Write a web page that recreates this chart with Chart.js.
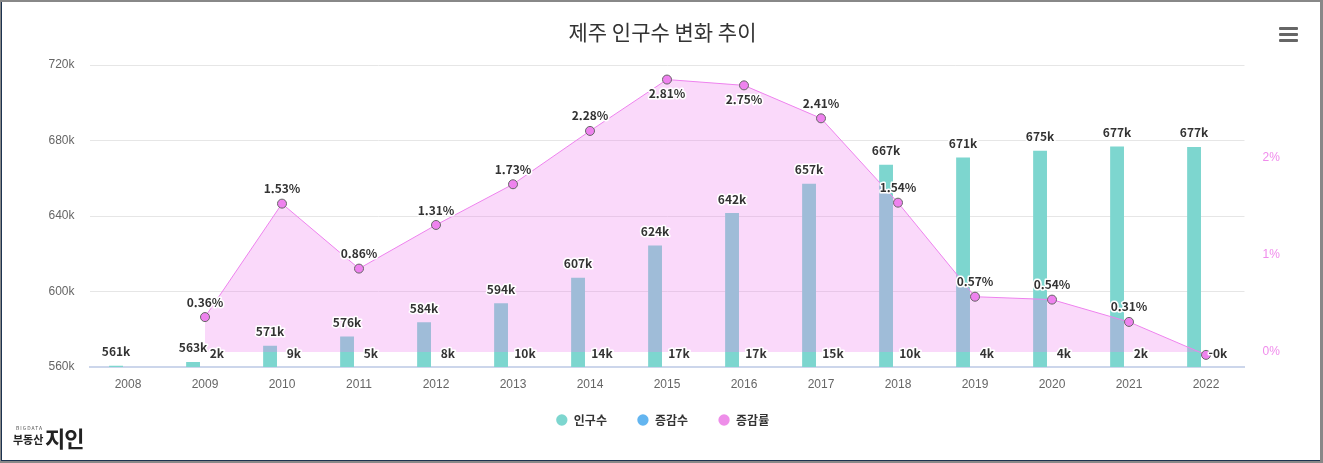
<!DOCTYPE html>
<html lang="ko">
<head>
<meta charset="utf-8">
<title>제주 인구수 변화 추이</title>
<script src="https://cdn.jsdelivr.net/npm/chart.js@4/dist/chart.umd.min.js"></script>
<style>
    body { margin: 0; background: #fff; font-family: "Noto Sans CJK KR", sans-serif; }
    .frame {
        position: absolute; left: 0; top: 0; width: 1323px; height: 463px; box-sizing: border-box;
        border-top: 2px solid #888; border-right: 3px solid #888; border-bottom: 2px solid #888; border-left: 1px solid #888;
    }
    .inner {
        position: absolute; left: 0; top: 0; right: 0; bottom: 0;
        border-left: 1px solid #1c3350; border-bottom: 1px solid #1c3350;
    }
    .wrap { position: absolute; left: 2px; top: 0; width: 1317px; height: 457px; }
    .menu { position: absolute; left: 1279px; top: 27px; width: 19px; }
    .menu span { display: block; height: 3px; background: #666; margin-bottom: 3px; border-radius: 1px; }
    .logo { position: absolute; left: 13px; top: 424px; color: #222; white-space: nowrap; }
    .logo .small { position: absolute; left: 3px; top: 0; font-size: 5px; letter-spacing: 1px; color: #555; }
    .logo .kr { position: absolute; left: 0; top: 7px; font-size: 11px; font-weight: bold; }
    .logo .big { position: absolute; left: 32px; top: -3px; font-size: 22px; font-weight: bold; letter-spacing: -1px; }
</style>
</head>
<body>
<div class="frame"><div class="inner">
    <div class="wrap"><canvas id="chart"></canvas></div>
</div></div>
<div class="menu"><span></span><span></span><span></span></div>
<div class="logo"><span class="small">BIGDATA</span><span class="kr">부동산</span><span class="big">지인</span></div>
<script>
    // 데이터 (인구수/증감수는 천 명 단위)
    const years = ["2008", "2009", "2010", "2011", "2012", "2013", "2014", "2015", "2016", "2017", "2018", "2019", "2020", "2021", "2022"];
    const population = [560.6, 562.7, 571.3, 576.2, 583.7, 593.8, 607.3, 624.4, 641.6, 657.1, 667.2, 671.0, 674.6, 676.8, 676.6];
    const change = [null, 2.0, 8.6, 4.9, 7.6, 10.1, 13.5, 17.0, 17.2, 15.4, 10.1, 3.8, 3.6, 2.1, -0.2];
    const rate = [null, 0.36, 1.53, 0.86, 1.31, 1.73, 2.28, 2.81, 2.75, 2.41, 1.54, 0.57, 0.54, 0.31, -0.03];
    const leftTicks = [560, 600, 640, 680, 720];
    const rightTicks = [0, 1, 2];
    const legendColors = ["#7dd6cf", "#63b5f0", "#ee8ee9"];

    const labelFont = 'bold 12px "Noto Sans CJK KR", sans-serif';

    // 막대/점 위 값 표시
    const valueLabels = {
        id: "valueLabels",
        afterDatasetsDraw(chart) {
            const ctx = chart.ctx;
            const area = chart.chartArea;
            ctx.save();
            ctx.font = labelFont;
            ctx.textAlign = "center";
            ctx.textBaseline = "middle";
            ctx.lineJoin = "round";
            chart.data.datasets.forEach((ds, di) => {
                const meta = chart.getDatasetMeta(di);
                meta.data.forEach((el, i) => {
                    const v = ds.data[i];
                    if (v === null || v === undefined) return;
                    let text, x = el.x, y;
                    if (ds.type === "line") {
                        if (v < 0) return; // 겹치는 라벨은 숨김
                        text = v.toFixed(2) + "%";
                        y = el.y - 15;
                        if (y - 8 < area.top) y = el.y + 14;
                    } else {
                        text = v.toFixed(0) + "k";
                        y = Math.min(el.y, el.base) - 14;
                    }
                    ctx.strokeStyle = "#fff";
                    ctx.lineWidth = 3;
                    ctx.strokeText(text, x, y);
                    ctx.fillStyle = "#333";
                    ctx.fillText(text, x, y);
                });
            });
            ctx.restore();
        },
    };

    // 범례를 x축 라벨 쪽으로 조금 올림
    const legendShift = {
        id: "legendShift",
        afterLayout(chart) {
            if (chart.legend) {
                chart.legend.top -= 7;
                chart.legend.bottom -= 7;
            }
        },
    };

    new Chart(document.getElementById("chart"), {
        type: "bar",
        data: {
            labels: years,
            datasets: [
                {
                    label: "인구수",
                    data: population,
                    yAxisID: "y",
                    backgroundColor: "#7dd6cf",
                    borderWidth: 0,
                    order: 1,
                },
                {
                    label: "증감수",
                    data: change,
                    yAxisID: "y2",
                    backgroundColor: "#63b5f0",
                    borderWidth: 0,
                    order: 2,
                },
                {
                    type: "line",
                    label: "증감률",
                    data: rate,
                    yAxisID: "y1",
                    borderColor: "#ee82ee",
                    borderWidth: 1,
                    backgroundColor: "rgba(238, 130, 238, 0.3)",
                    fill: { value: 0 },
                    tension: 0,
                    pointRadius: 4.5,
                    pointBackgroundColor: "#ee82ee",
                    pointBorderColor: "#666",
                    pointBorderWidth: 1,
                    order: 0,
                },
            ],
        },
        options: {
            responsive: true,
            maintainAspectRatio: false,
            animation: false,
            datasets: {
                bar: { categoryPercentage: 0.62, barPercentage: 0.58 },
            },
            layout: { padding: { top: 0, left: 0, right: 0, bottom: 16 } },
            scales: {
                x: {
                    grid: { display: false, drawTicks: false },
                    border: { color: "#ccd6eb", width: 2 },
                    ticks: { color: "#666", font: { size: 12 }, padding: 10, maxRotation: 0 },
                    afterFit: (s) => { s.height = 24; },
                },
                y: {
                    position: "left",
                    min: 560,
                    max: 720,
                    afterBuildTicks: (s) => { s.ticks = leftTicks.map((v) => ({ value: v })); },
                    grid: { color: "#e6e6e6", drawTicks: false },
                    border: { display: false },
                    ticks: { color: "#666", font: { size: 12 }, padding: 15, callback: (v) => v + "k" },
                    afterFit: (s) => { s.width = 85.5; },
                },
                y1: {
                    position: "right",
                    min: -0.155,
                    max: 2.96,
                    afterBuildTicks: (s) => { s.ticks = rightTicks.map((v) => ({ value: v })); },
                    grid: { display: false, drawTicks: false },
                    border: { display: false },
                    ticks: { color: "#f08cec", font: { size: 12 }, padding: 18, callback: (v) => v + "%" },
                    afterFit: (s) => { s.width = 76.5; },
                },
                y2: {
                    display: false,
                    min: 0,
                    max: 100000,
                },
            },
            plugins: {
                title: {
                    display: true,
                    text: "제주 인구수 변화 추이",
                    color: "#333",
                    font: { size: 21, weight: "normal", family: '"Noto Sans CJK KR", sans-serif' },
                    padding: { top: 17.4, bottom: 20.4 },
                },
                legend: {
                    position: "bottom",
                    labels: {
                        usePointStyle: true,
                        pointStyle: "circle",
                        boxWidth: 14,
                        boxHeight: 8,
                        padding: 30,
                        color: "#333",
                        font: { size: 12, weight: "bold", family: '"Noto Sans CJK KR", sans-serif' },
                        sort: (a, b) => a.datasetIndex - b.datasetIndex,
                        generateLabels: (chart) => {
                            const items = Chart.defaults.plugins.legend.labels.generateLabels(chart);
                            items.forEach((it) => {
                                it.fillStyle = legendColors[it.datasetIndex];
                                it.strokeStyle = legendColors[it.datasetIndex];
                                it.lineWidth = 0;
                                it.pointStyle = "circle";
                            });
                            return items;
                        },
                    },
                },
                tooltip: { enabled: false },
            },
        },
        plugins: [valueLabels, legendShift],
    });
</script>
</body>
</html>
